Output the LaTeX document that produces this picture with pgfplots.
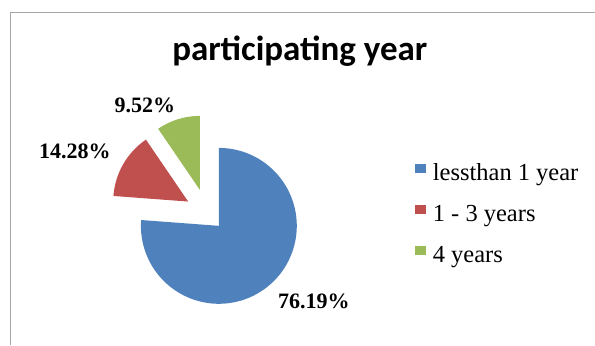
\documentclass[border=0pt]{standalone}
\usepackage{pgfplots}
\pgfplotsset{compat=1.18}
\usepackage{fontspec}
\setmainfont{Liberation Serif}
\newfontfamily\carlito{Carlito}
\definecolor{exblue}{HTML}{4F81BD}
\definecolor{exred}{HTML}{C0504D}
\definecolor{exgreen}{HTML}{9BBB59}
% slice values (percent)
\def\vA{76.19}
\def\vB{14.28}
\def\vC{9.52}
\begin{document}
\begin{tikzpicture}
\pgfmathsetmacro\aA{90-3.6*\vA}
\pgfmathsetmacro\aB{\aA-3.6*\vB}
\pgfmathsetmacro\aC{\aB-3.6*\vC}
\begin{axis}[
  scale only axis, width=595bp, height=345bp,
  xmin=0, xmax=595, ymin=0, ymax=345,
  axis lines=none, clip=false,
  legend cell align=left,
  legend image code/.code={\fill[#1,draw=none] (0bp,0.5bp) rectangle (11bp,9.5bp); \path (17bp,0bp);},
  legend style={at={(412/595,186/345)}, anchor=north west, draw=none, fill=none,
    font=\fontsize{24.5bp}{28bp}\selectfont, row sep=16bp,
    nodes={inner sep=1bp, text height=18bp, text depth=5bp}},
]
% full-size bounding area
\path (axis cs:0,0) rectangle (axis cs:595,345);
% frame
\draw[black!35, line width=0.8bp] (axis cs:10,0) -- (axis cs:10,333) -- (axis cs:595,333);
% slices
\addplot[fill=exblue, draw=none, domain=\aA:90, samples=90, variable=\t]
  ({219+78*cos(\t)},{119+78*sin(\t)}) -- (axis cs:219,119) -- cycle;
\addlegendentry{lessthan 1 year}
\addplot[fill=exred, draw=none, domain=\aB:\aA, samples=30, variable=\t]
  ({188.3+75*cos(\t)},{143.3+75*sin(\t)}) -- (axis cs:188.3,143.3) -- cycle;
\addlegendentry{1 - 3 years}
\addplot[fill=exgreen, draw=none, domain=\aC:\aB, samples=30, variable=\t]
  ({200+74*cos(\t)},{155+74*sin(\t)}) -- (axis cs:200,155) -- cycle;
\addlegendentry{4 years}
% labels
\node[font=\bfseries\fontsize{22bp}{26bp}\selectfont] at (axis cs:145,240) {9.52\%};
\node[font=\bfseries\fontsize{22bp}{26bp}\selectfont] at (axis cs:75,194) {14.28\%};
\node[font=\bfseries\fontsize{22bp}{26bp}\selectfont] at (axis cs:314,43) {76.19\%};
% title
\node[anchor=base, font=\carlito\bfseries\fontsize{35bp}{40bp}\selectfont] at (axis cs:300,284) {participating year};
\end{axis}
\end{tikzpicture}
\end{document}
